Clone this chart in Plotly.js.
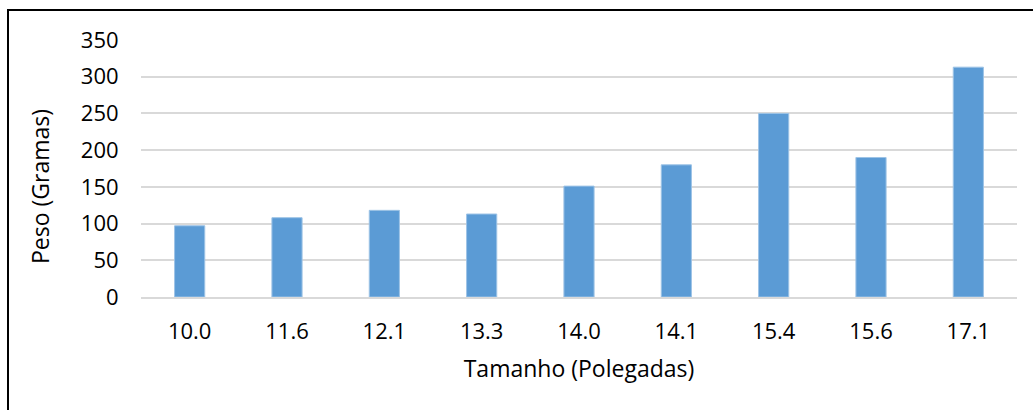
<!DOCTYPE html>
<html>
<head>
<meta charset="utf-8">
<script src="https://cdn.plot.ly/plotly-3.0.1.min.js"></script>
<style>
  html, body { margin: 0; padding: 0; background: #fff; overflow: hidden; }
  #wrap { position: relative; width: 1033px; height: 410px; }
  #chart { position: absolute; left: 0; top: 0; width: 1033px; height: 410px; }
  #frame { position: absolute; left: 7px; top: 9px; width: 1040px; height: 420px;
           border: 2px solid #000; box-sizing: border-box; pointer-events: none; }
</style>
</head>
<body>
<div id="wrap">
  <div id="chart"></div>
  <div id="frame"></div>
</div>
<script>
// Screen size (inches) and weight (grams)
const sizes = ["10.0", "11.6", "12.1", "13.3", "14.0", "14.1", "15.4", "15.6", "17.1"];
const weights = [97, 108, 118, 113, 151, 180, 250, 190, 313];
const yTicks = [0, 50, 100, 150, 200, 250, 300, 350];

const FONT = "Open Sans, sans-serif";
const FS = 22;
const W = 1033, H = 410;
const margin = { l: 141, r: 16, t: 40, b: 113 };

const trace = {
  type: "bar",
  x: sizes,
  y: weights,
  marker: { color: "#5B9BD5", line: { color: "#9DC3E6", width: 1 } },
  hoverinfo: "x+y"
};

const layout = {
  width: W, height: H,
  margin: margin,
  paper_bgcolor: "#fff",
  plot_bgcolor: "#fff",
  bargap: 0.69,
  showlegend: false,
  font: { family: FONT, size: FS, color: "#000" },
  xaxis: {
    type: "category",
    tickvals: sizes,
    ticktext: sizes,
    showgrid: false,
    showline: true,
    linecolor: "#d9d9d9",
    linewidth: 2,
    ticks: "outside",
    ticklen: 14,
    tickcolor: "rgba(0,0,0,0)",
    tickfont: { family: FONT, size: FS, color: "#000" },
    zeroline: false,
    fixedrange: true,
    title: { text: "Tamanho (Polegadas)", font: { family: FONT, size: 23, color: "#000" }, standoff: 16 }
  },
  yaxis: {
    range: [0, 350],
    tickvals: yTicks,
    ticktext: yTicks.map(String),
    showgrid: true,
    gridcolor: "#d9d9d9",
    gridwidth: 2,
    zeroline: false,
    showline: false,
    ticks: "outside",
    ticklen: 17,
    tickcolor: "rgba(0,0,0,0)",
    tickfont: { family: FONT, size: FS, color: "#000" },
    fixedrange: true
  },
  annotations: [{
    text: "Peso (Gramas)",
    textangle: -90,
    xref: "paper", yref: "paper",
    x: (40 - margin.l) / (W - margin.l - margin.r),
    y: (H - margin.b - 187) / (H - margin.t - margin.b),
    xanchor: "center", yanchor: "middle",
    showarrow: false,
    font: { family: FONT, size: 23, color: "#000" }
  }]
};

Plotly.newPlot("chart", [trace], layout, { displayModeBar: false, staticPlot: true });
</script>
</body>
</html>
